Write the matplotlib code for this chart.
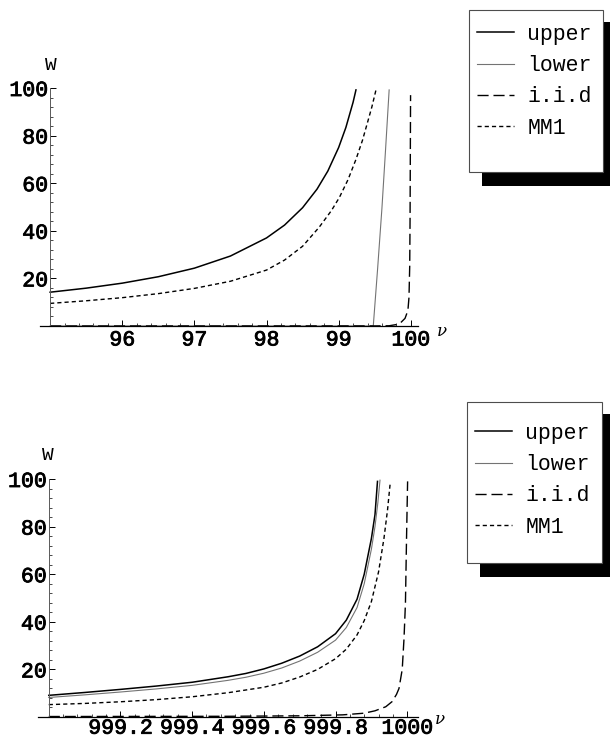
import matplotlib
matplotlib.use("Agg")
import matplotlib.pyplot as plt
import matplotlib.patheffects as pe
from matplotlib.patches import Rectangle
from matplotlib.ticker import MultipleLocator

# ---- top panel (nu from 95 to 100) ----
up_x = [95, 95.5, 96, 96.5, 97, 97.5, 98, 98.25, 98.5, 98.7, 98.85, 99.0, 99.1, 99.2, 99.24]
up_y = [14.2, 15.9, 18.0, 20.7, 24.3, 29.4, 37.0, 42.4, 49.7, 57.5, 65.1, 75.0, 83.4, 94.0, 99.2]
lo_x = [95, 99.48, 99.54, 99.6, 99.65, 99.7]
lo_y = [0, 0, 24, 49.5, 74, 99.2]
iid_x = [95, 99.5, 99.7, 99.8, 99.86, 99.92, 99.96, 99.975, 99.985, 99.99, 99.997]
iid_y = [0, 0.03, 0.1, 0.6, 1.4, 3.2, 6.5, 12, 25, 45, 97]
mm_x = [95, 95.5, 96, 96.5, 97, 97.5, 98, 98.25, 98.5, 98.73, 98.9, 99.01, 99.13, 99.24, 99.33, 99.4, 99.46, 99.52]
mm_y = [9.5, 10.6, 11.9, 13.6, 15.8, 18.8, 23.5, 27.7, 33.5, 41.5, 48.5, 54.0, 61.5, 70.0, 78.0, 85.5, 92.0, 99.5]
top_xticks = [96, 97, 98, 99, 100]

# ---- bottom panel (nu from 999 to 1000) ----
up2_x = [999.0, 999.1, 999.2, 999.3, 999.4, 999.5, 999.55, 999.6, 999.65, 999.7, 999.75, 999.8,
         999.83, 999.86, 999.88, 999.9, 999.91, 999.917]
up2_y = [9.1, 10.3, 11.6, 13.0, 14.6, 16.9, 18.3, 20.2, 22.6, 25.6, 29.5, 35.0,
         40.7, 49.5, 60.0, 75.0, 85.0, 99.0]
lo2_x = [999.0, 999.1, 999.2, 999.3, 999.4, 999.5, 999.55, 999.6, 999.65, 999.7, 999.75, 999.8,
         999.83, 999.86, 999.88, 999.9, 999.91, 999.918, 999.924]
lo2_y = [8.2, 9.3, 10.5, 11.8, 13.3, 15.4, 16.7, 18.4, 20.6, 23.5, 27.2, 32.3,
         37.6, 46.0, 56.0, 70.5, 80.0, 90.0, 99.5]
iid2_x = [999.0, 999.5, 999.7, 999.82, 999.88, 999.91, 999.94, 999.958, 999.97, 999.977, 999.986,
          999.991, 999.995, 999.998, 1000.001]
iid2_y = [0.2, 0.3, 0.5, 0.9, 1.6, 2.6, 4.3, 6.5, 9.5, 12.0, 20.0, 33.0, 48.0, 75.0, 99.0]
mm2_x = [999.0, 999.1, 999.2, 999.3, 999.4, 999.5, 999.6, 999.65, 999.7, 999.75, 999.8, 999.83,
         999.86, 999.88, 999.9, 999.92, 999.935, 999.945, 999.952]
mm2_y = [5.2, 5.7, 6.4, 7.3, 8.5, 10.2, 12.5, 14.3, 16.8, 20.0, 24.5, 28.5,
         34.5, 40.5, 48.5, 61.0, 75.0, 87.0, 97.6]
bot_xticks = [999.2, 999.4, 999.6, 999.8, 1000]
bot_xlabels = ["999.2", "999.4", "999.6", "999.8", "1000"]

y_ticks = [20, 40, 60, 80, 100]
series_names = ["upper", "lower", "i.i.d", "MM1"]

plt.rcParams['font.family'] = ['Liberation Mono', 'DejaVu Sans Mono']

W_PX, H_PX = 610, 742
fig = plt.figure(figsize=(6.1, 7.42), dpi=100)


def frac(x0, y0, x1, y1):
    # pixel box (top-left origin) -> figure fraction rect
    return [x0 / W_PX, 1 - y1 / H_PX, (x1 - x0) / W_PX, (y1 - y0) / H_PX]


def draw_panel(rect, xlim, x0, data, xticks, xlabels, xminor, xpad, w_pos, nu_pos):
    ax = fig.add_axes(rect)
    (ux, uy), (lx, ly), (ix, iy), (mx, my) = data
    ax.plot(ux, uy, color='black', lw=1.1, label=series_names[0])
    ax.plot(lx, ly, color='0.45', lw=0.8, label=series_names[1])
    ax.plot(ix, iy, color='black', lw=1.0, dashes=(8, 3.5), label=series_names[2])
    ax.plot(mx, my, color='black', lw=1.0, dashes=(3, 2.2), label=series_names[3])
    ax.set_xlim(*xlim)
    ax.set_ylim(0, 100)
    ax.set_facecolor('none')
    for s in ['top', 'right']:
        ax.spines[s].set_visible(False)
    ax.spines['left'].set_position(('data', x0))
    ax.spines['left'].set_linewidth(0.7)
    ax.spines['left'].set_color('0.35')
    ax.spines['bottom'].set_linewidth(0.9)
    ax.set_xticks(xticks)
    ax.set_xticklabels(xlabels)
    ax.set_yticks(y_ticks)
    ax.xaxis.set_minor_locator(MultipleLocator(xminor))
    ax.yaxis.set_minor_locator(MultipleLocator(4))
    ax.tick_params(which='major', direction='in', length=4, width=0.7, labelsize=15.5)
    ax.tick_params(which='minor', direction='in', length=2, width=0.5)
    ax.tick_params(axis='x', which='major', pad=xpad)
    ax.tick_params(axis='y', which='major', pad=1.5)
    # scanned print looks a bit heavier than the regular face
    for lab in ax.get_xticklabels() + ax.get_yticklabels():
        lab.set_path_effects([pe.withStroke(linewidth=0.6, foreground='black')])
    ax.text(w_pos[0], w_pos[1], "W", transform=ax.transAxes, ha='center', va='center', fontsize=14)
    ax.text(nu_pos[0], nu_pos[1], "ν", transform=ax.transAxes, ha='center', va='center',
            fontsize=12, family=['DejaVu Serif'], style='italic')
    return ax


def draw_legend(ax, box, shadow, anchor):
    fig.patches.append(Rectangle((shadow[0], shadow[1]), shadow[2], shadow[3], transform=fig.transFigure,
                                 facecolor='black', edgecolor='none', zorder=1))
    fig.patches.append(Rectangle((box[0], box[1]), box[2], box[3], transform=fig.transFigure,
                                 facecolor='white', edgecolor='0.3', lw=0.8, zorder=2))
    h, l = ax.get_legend_handles_labels()
    leg = fig.legend(h, l, loc='upper left', bbox_to_anchor=anchor, frameon=False, borderpad=0,
                     handlelength=1.75, handletextpad=0.6, labelspacing=0.48, fontsize=15.5)
    leg.set_zorder(3)


ax1 = draw_panel(frac(40, 88, 418, 326), (94.86, 100.1), 95,
                 [(up_x, up_y), (lo_x, lo_y), (iid_x, iid_y), (mm_x, mm_y)],
                 top_xticks, [str(t) for t in top_xticks], 0.2, 2.5,
                 (0.029, 1.095), (1.063, -0.025))
draw_legend(ax1, frac(469, 10, 603, 172), frac(482, 22, 610, 186), (466 / W_PX, 1 - 13 / H_PX))

ax2 = draw_panel(frac(38, 479, 418, 717), (998.97, 1000.03), 999.0,
                 [(up2_x, up2_y), (lo2_x, lo2_y), (iid2_x, iid2_y), (mm2_x, mm2_y)],
                 bot_xticks, bot_xlabels, 0.04, 0.5,
                 (0.027, 1.098), (1.058, -0.012))
draw_legend(ax2, frac(467, 402, 602, 563), frac(480, 414, 610, 577), (464 / W_PX, 1 - 412 / H_PX))

fig.savefig("out.png", dpi=100, facecolor='white')
